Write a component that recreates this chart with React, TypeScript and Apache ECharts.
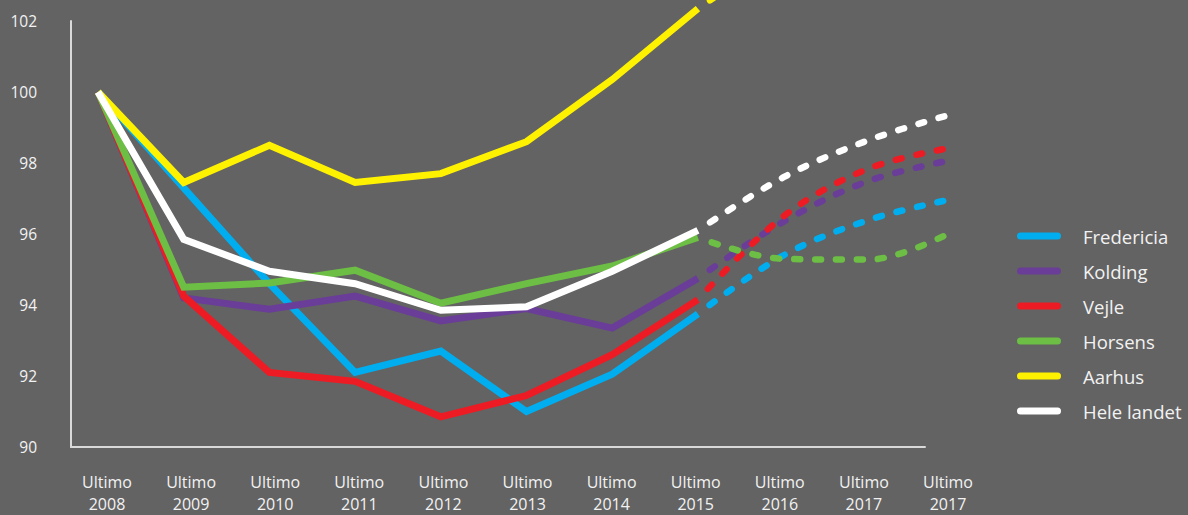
import React, { useEffect, useRef } from "react";
import * as echarts from "echarts";

const categories = [
  "Ultimo\n2008", "Ultimo\n2009", "Ultimo\n2010", "Ultimo\n2011", "Ultimo\n2012", "Ultimo\n2013",
  "Ultimo\n2014", "Ultimo\n2015", "Ultimo\n2016", "Ultimo\n2017", "Ultimo\n2017",
];
const yTicks = { min: 90, max: 102, interval: 2 };

const names = ["Fredericia", "Kolding", "Vejle", "Horsens", "Aarhus", "Hele landet"];
const colors = ["#00aeef", "#6a3d98", "#ed1c24", "#6dbe45", "#fff200", "#ffffff"];

// actual values, Ultimo 2008 – Ultimo 2015
const fredericia = [100, 97.3, 94.6, 92.1, 92.7, 91.0, 92.05, 93.75];
const kolding = [100, 94.2, 93.88, 94.25, 93.55, 93.9, 93.35, 94.75];
const vejle = [100, 94.25, 92.1, 91.85, 90.85, 91.45, 92.6, 94.15];
const horsens = [100, 94.5, 94.62, 94.98, 94.05, 94.6, 95.1, 95.9];
const aarhus = [100, 97.45, 98.5, 97.45, 97.7, 98.6, 100.35, 102.35];
const heleLandet = [100, 95.85, 94.95, 94.6, 93.85, 93.95, 94.95, 96.1];

// forecasts, Ultimo 2015 – last category
const fredericiaProg = [93.75, 95.4, 96.4, 97.0];
const koldingProg = [94.75, 96.35, 97.5, 98.1];
const vejleProg = [94.15, 96.5, 97.85, 98.45];
const horsensProg = [95.9, 95.3, 95.28, 96.1];
const aarhusProg = [102.35, 103.9, 105.0, 105.8];
const heleLandetProg = [96.1, 97.6, 98.65, 99.4];

const actual = [fredericia, kolding, vejle, horsens, aarhus, heleLandet];
const prognoses = [fredericiaProg, koldingProg, vejleProg, horsensProg, aarhusProg, heleLandetProg];
const progStart = 7;

const FONT = "'Open Sans', 'Noto Sans', sans-serif";
const TEXT = "#f2f2f2";
const AXIS = "#d9d9d9";
const BG = "#636363";

export default function App() {
  const ref = useRef<HTMLDivElement>(null);

  useEffect(() => {
    document.body.style.margin = "0";
    document.body.style.background = BG;
    if (!ref.current) return;
    const chart = echarts.init(ref.current, undefined, { renderer: "svg" });

    const solidSeries = names.map((n, i) => ({
      name: n,
      type: "line",
      xAxisIndex: 0,
      yAxisIndex: 0,
      data: actual[i],
      showSymbol: false,
      symbol: "none",
      clip: false,
      lineStyle: { color: colors[i], width: 7, join: "miter", cap: "butt" },
      itemStyle: { color: colors[i] },
      z: 2 + i,
    }));

    const dashedSeries = names.map((n, i) => ({
      name: n + " prognose",
      type: "line",
      xAxisIndex: 0,
      yAxisIndex: 0,
      data: [...new Array(progStart).fill(null), ...prognoses[i]],
      showSymbol: false,
      symbol: "none",
      clip: false,
      smooth: 0.35,
      lineStyle: {
        color: colors[i],
        width: 6.5,
        type: [6, 15],
        dashOffset: 6,
        cap: "round",
      },
      itemStyle: { color: colors[i] },
      z: 10 + i,
    }));

    chart.setOption({
      animation: false,
      backgroundColor: BG,
      textStyle: { fontFamily: FONT },
      grid: [
        { left: 98, right: 233, top: 21, bottom: 68 },
        { left: 71, right: 263, top: 21, bottom: 68 },
        { left: 107, right: 240, top: 21, bottom: 68 },
      ],
      xAxis: [
        { gridIndex: 0, type: "category", data: categories, boundaryGap: false, show: false },
        {
          gridIndex: 1, type: "value", min: 0, max: 1,
          axisLine: { show: true, lineStyle: { color: AXIS, width: 2 } },
          axisTick: { show: false }, axisLabel: { show: false }, splitLine: { show: false },
        },
        {
          gridIndex: 2, type: "category", data: categories, boundaryGap: false,
          axisLine: { show: false }, axisTick: { show: false }, splitLine: { show: false },
          axisLabel: {
            interval: 0, margin: 28, color: TEXT, fontSize: 16, lineHeight: 22, fontFamily: FONT,
          },
        },
      ],
      yAxis: [
        { gridIndex: 0, type: "value", ...yTicks, show: false },
        {
          gridIndex: 1, type: "value", ...yTicks,
          axisLine: { show: true, lineStyle: { color: AXIS, width: 2 } },
          axisTick: { show: false }, splitLine: { show: false },
          axisLabel: { margin: 34, color: TEXT, fontSize: 15.5, fontFamily: FONT },
        },
        { gridIndex: 2, type: "value", ...yTicks, show: false },
      ],
      legend: {
        data: names,
        orient: "vertical",
        left: 1017,
        top: 226,
        padding: 0,
        itemWidth: 44,
        itemHeight: 7,
        itemGap: 15,
        icon: "path://M3.5,0 L40.5,0 A3.5,3.5 0 0 1 40.5,7 L3.5,7 A3.5,3.5 0 0 1 3.5,0 Z",
        textStyle: { color: TEXT, fontSize: 18.5, fontFamily: FONT, lineHeight: 20, padding: [0, 0, 0, 17] },
        selectedMode: false,
      },
      series: [...solidSeries, ...dashedSeries],
    });

    return () => chart.dispose();
  }, []);

  return <div ref={ref} style={{ width: 1188, height: 515 }} />;
}
